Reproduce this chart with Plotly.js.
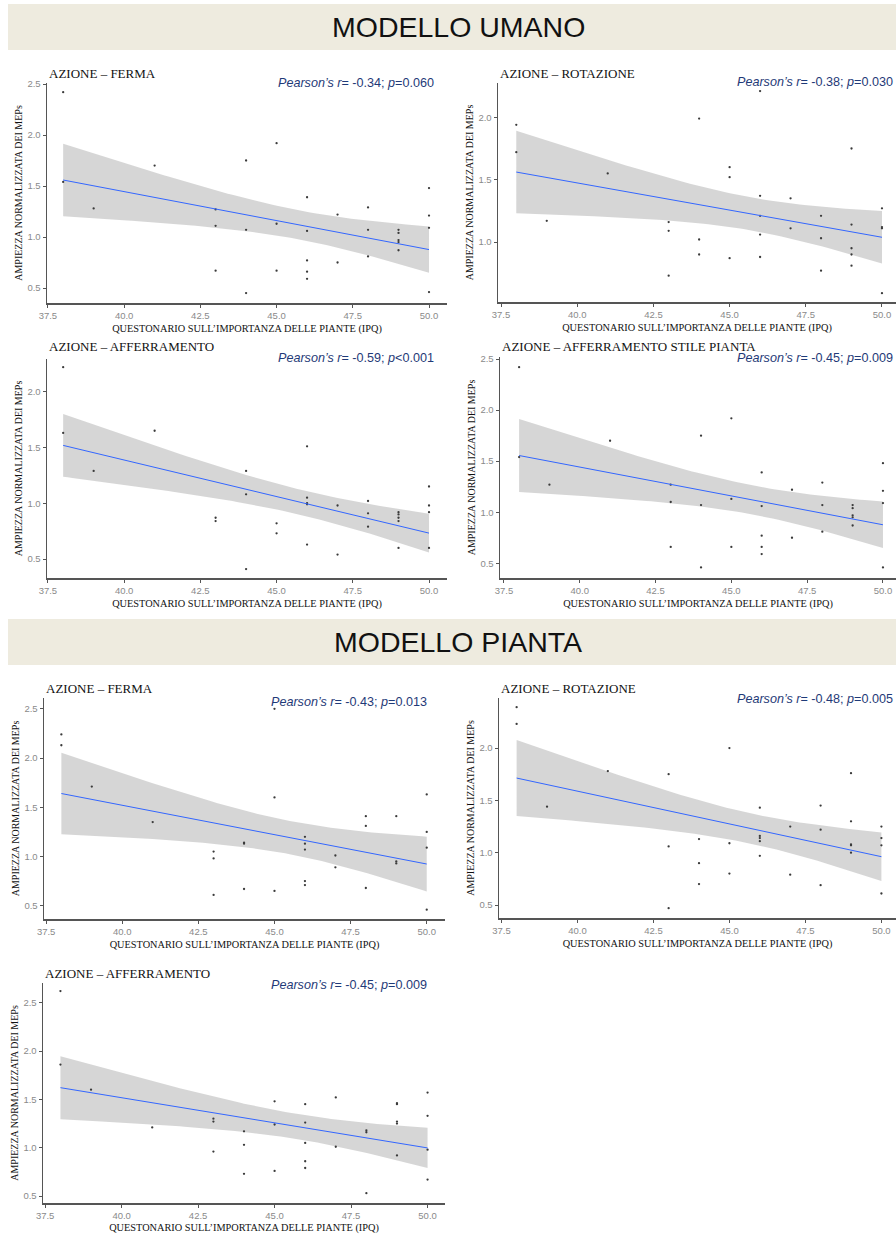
<!DOCTYPE html>
<html>
<head>
<meta charset="utf-8">
<script src="https://cdn.plot.ly/plotly-3.0.1.min.js"></script>
<style>html,body{margin:0;padding:0;background:#fff;}#chart{width:896px;height:1234px;}</style>
</head>
<body>
<div id="chart"></div>
<script>
// ---------- DATA ----------
const sectionTitles = ["MODELLO UMANO", "MODELLO PIANTA"];
const panelTitles = [
  "AZIONE – FERMA", "AZIONE – ROTAZIONE", "AZIONE – AFFERRAMENTO", "AZIONE – AFFERRAMENTO STILE PIANTA",
  "AZIONE – FERMA", "AZIONE – ROTAZIONE", "AZIONE – AFFERRAMENTO"
];
const rValues = ["-0.34", "-0.38", "-0.59", "-0.45", "-0.43", "-0.48", "-0.45"];
const pValues = ["=0.060", "=0.030", "<0.001", "=0.009", "=0.013", "=0.005", "=0.009"];
const xTitle = "QUESTONARIO SULL’IMPORTANZA DELLE PIANTE (IPQ)";
const yTitle = "AMPIEZZA NORMALIZZATA DEI MEPs";

const umanoFermaX = [38,38,39,41,43,43,43,44,44,44,45,45,45,46,46,46,46,46,47,47,48,48,48,49,49,49,49,49,50,50,50,50];
const umanoFermaY = [2.42,1.54,1.28,1.70,1.27,1.11,0.67,1.75,1.07,0.45,1.92,1.13,0.67,1.39,1.06,0.77,0.66,0.59,1.22,0.75,1.29,1.07,0.81,1.07,1.04,0.97,0.95,0.87,1.48,1.21,1.09,0.46];

const umanoRotX = [38,38,39,41,43,43,43,44,44,44,45,45,45,46,46,46,46,46,47,47,48,48,48,49,49,49,49,49,50,50,50,50];
const umanoRotY = [1.94,1.72,1.17,1.55,1.16,1.09,0.73,1.99,1.02,0.90,1.60,1.52,0.87,2.21,1.37,1.21,1.06,0.88,1.35,1.11,1.21,1.03,0.77,1.75,1.14,0.95,0.90,0.81,1.27,1.12,1.11,0.59];

const umanoAffX = [38,38,39,41,43,43,44,44,44,45,45,46,46,46,46,46,47,47,48,48,48,49,49,49,49,49,50,50,50,50];
const umanoAffY = [2.22,1.63,1.29,1.65,0.87,0.84,1.29,1.08,0.41,0.82,0.73,1.51,1.05,1.00,0.99,0.63,0.98,0.54,1.02,0.91,0.79,0.92,0.90,0.87,0.84,0.60,1.15,0.98,0.92,0.60];

const umanoStileX = [38,38,39,41,43,43,43,44,44,44,45,45,45,46,46,46,46,46,47,47,48,48,48,49,49,49,49,49,50,50,50,50];
const umanoStileY = [2.42,1.54,1.27,1.70,1.27,1.10,0.66,1.75,1.07,0.46,1.92,1.13,0.66,1.39,1.06,0.77,0.66,0.59,1.22,0.75,1.29,1.07,0.81,1.07,1.04,0.97,0.95,0.87,1.48,1.21,1.09,0.46];

const piantaFermaX = [38,38,39,41,43,43,43,44,44,44,45,45,45,46,46,46,46,46,47,47,48,48,48,49,49,49,50,50,50,50];
const piantaFermaY = [2.24,2.13,1.71,1.35,1.05,0.98,0.61,1.14,1.13,0.67,2.50,1.60,0.65,1.20,1.13,1.07,0.75,0.71,1.01,0.89,1.41,1.31,0.68,1.41,0.95,0.93,1.63,1.25,1.09,0.46];

const piantaRotX = [38,38,39,41,43,43,43,44,44,44,45,45,45,46,46,46,46,46,47,47,48,48,48,49,49,49,49,49,50,50,50,50];
const piantaRotY = [2.39,2.23,1.44,1.78,1.75,1.06,0.47,1.13,0.90,0.70,2.00,1.09,0.80,1.43,1.16,1.14,1.11,0.97,1.25,0.79,1.45,1.22,0.69,1.76,1.30,1.08,1.07,1.00,1.25,1.14,1.07,0.61];

const piantaAffX = [38,38,39,41,43,43,43,44,44,44,45,45,45,46,46,46,46,46,47,47,48,48,48,49,49,49,49,49,50,50,50,50];
const piantaAffY = [2.62,1.86,1.60,1.21,1.30,1.27,0.96,1.17,1.03,0.73,1.48,1.24,0.76,1.45,1.26,1.05,0.86,0.79,1.52,1.01,1.18,1.16,0.53,1.46,1.45,1.27,1.25,0.92,1.57,1.33,0.98,0.67];

const seriesX = [umanoFermaX, umanoRotX, umanoAffX, umanoStileX, piantaFermaX, piantaRotX, piantaAffX];
const seriesY = [umanoFermaY, umanoRotY, umanoAffY, umanoStileY, piantaFermaY, piantaRotY, piantaAffY];

// ---------- LAYOUT (pixel boxes) ----------
const W = 896, H = 1234;
const panels = [
  {L:47,  R:447, T:83,  B:303,  xr:[37.47,50.59], yr:[0.353,2.51]},
  {L:498, R:896, T:83,  B:302,  xr:[37.40,50.46], yr:[0.519,2.275]},
  {L:47,  R:447, T:359, B:578,  xr:[37.47,50.59], yr:[0.33,2.293]},
  {L:500, R:896, T:357, B:578,  xr:[37.37,50.43], yr:[0.356,2.52]},
  {L:44,  R:445, T:698, B:919,  xr:[37.43,50.60], yr:[0.365,2.61]},
  {L:499, R:896, T:698, B:918,  xr:[37.42,50.48], yr:[0.376,2.478]},
  {L:43,  R:445, T:983, B:1203, xr:[37.43,50.57], yr:[0.428,2.704]}
];
const pearsonPos = [[436,83],[895,82],[436,358],[895,358],[429,702],[895,699],[429,985]];
const titlePos = [73,73,346,346,688,688,973];
const headerBands = [[4,50],[619,665]];

const px = x => x / W;
const py = y => 1 - y / H;

function tq(df){ // approx 97.5% t quantile
  const z = 1.959964;
  return z + (z*z*z + z)/(4*df) + (5*Math.pow(z,5) + 16*z*z*z + 3*z)/(96*df*df);
}

const SERIF = "Liberation Serif, Times New Roman, serif";
const SANS = "Liberation Sans, Arial, sans-serif";

const data = [];
const layout = {
  width: W, height: H,
  margin: {l:0, r:0, t:0, b:0},
  paper_bgcolor: "#ffffff", plot_bgcolor: "rgba(0,0,0,0)",
  showlegend: false,
  shapes: [], annotations: []
};

headerBands.forEach((b, i) => {
  layout.shapes.push({type:"rect", xref:"paper", yref:"paper", x0:px(8), x1:1, y0:py(b[1]), y1:py(b[0]),
    fillcolor:"#EEEBDF", line:{width:0}, layer:"below"});
  layout.annotations.push({xref:"paper", yref:"paper", x:px(458), y:py((b[0]+b[1])/2), xanchor:"center", yanchor:"middle",
    text: sectionTitles[i], showarrow:false, font:{family:SANS, size:28.5, color:"#111111"}});
});

panels.forEach((p, i) => {
  const n = i + 1;
  const xa = n === 1 ? "xaxis" : "xaxis" + n;
  const ya = n === 1 ? "yaxis" : "yaxis" + n;
  const xs = seriesX[i], ys = seriesY[i];
  const N = xs.length;
  const mx = xs.reduce((a,b)=>a+b,0)/N, my = ys.reduce((a,b)=>a+b,0)/N;
  let sxx = 0, sxy = 0;
  for (let k=0;k<N;k++){ sxx += (xs[k]-mx)**2; sxy += (xs[k]-mx)*(ys[k]-my); }
  const slope = sxy/sxx, icpt = my - slope*mx;
  let sse = 0;
  for (let k=0;k<N;k++){ sse += (ys[k] - icpt - slope*xs[k])**2; }
  const s = Math.sqrt(sse/(N-2)), t = tq(N-2);
  const xmin = Math.min(...xs), xmax = Math.max(...xs);
  const gx = [], gy = [], up = [], lo = [];
  for (let k=0;k<=80;k++){
    const x = xmin + (xmax-xmin)*k/80;
    const yh = icpt + slope*x;
    const se = s*Math.sqrt(1/N + (x-mx)**2/sxx);
    gx.push(x); gy.push(yh); up.push(yh + t*se); lo.push(yh - t*se);
  }
  const xref = n === 1 ? "x" : "x" + n, yref = n === 1 ? "y" : "y" + n;
  data.push({type:"scatter", mode:"lines", x: gx.concat(gx.slice().reverse()), y: up.concat(lo.slice().reverse()),
    fill:"toself", fillcolor:"rgba(153,153,153,0.4)", line:{width:0}, hoverinfo:"skip", xaxis:xref, yaxis:yref});
  data.push({type:"scatter", mode:"markers", x: xs, y: ys, marker:{size:2.3, color:"#3a3a3a"}, xaxis:xref, yaxis:yref});
  data.push({type:"scatter", mode:"lines", x: gx, y: gy, line:{color:"#3366FF", width:1}, xaxis:xref, yaxis:yref});

  const axCommon = {showgrid:false, zeroline:false, showline:true, linecolor:"#555555", linewidth:1.5,
    ticks:"outside", ticklen:3, tickwidth:1, tickcolor:"#555555",
    tickfont:{family:SANS, size:9.5, color:"#8a8a8a"}, tickformat:".1f", fixedrange:true};
  layout[xa] = Object.assign({}, axCommon, {
    domain:[px(p.L), px(p.R)], range:p.xr, anchor:yref, tick0:37.5, dtick:2.5,
    title:{text:xTitle, font:{family:SERIF, size:10.3, color:"#111111"}, standoff:5}
  });
  layout[ya] = Object.assign({}, axCommon, {
    domain:[py(p.B), py(p.T)], range:p.yr, anchor:xref, tick0:0.5, dtick:0.5,
    title:{text:yTitle, font:{family:SERIF, size:10, color:"#111111"}, standoff:3}
  });

  layout.annotations.push({xref:"paper", yref:"paper", x:px(p.L), y:py(titlePos[i]), xanchor:"left", yanchor:"middle",
    text: panelTitles[i], showarrow:false, font:{family:SERIF, size:13, color:"#111111", weight:400}});
  layout.annotations.push({xref:"paper", yref:"paper", x:px(pearsonPos[i][0]), y:py(pearsonPos[i][1]), xanchor:"right", yanchor:"middle",
    text: "<i>Pearson’s r</i>= " + rValues[i] + "; <i>p</i>" + pValues[i], showarrow:false,
    font:{family:SANS, size:12.6, color:"#1F3A78"}});
});

Plotly.newPlot("chart", data, layout, {staticPlot:true});
</script>
</body>
</html>
